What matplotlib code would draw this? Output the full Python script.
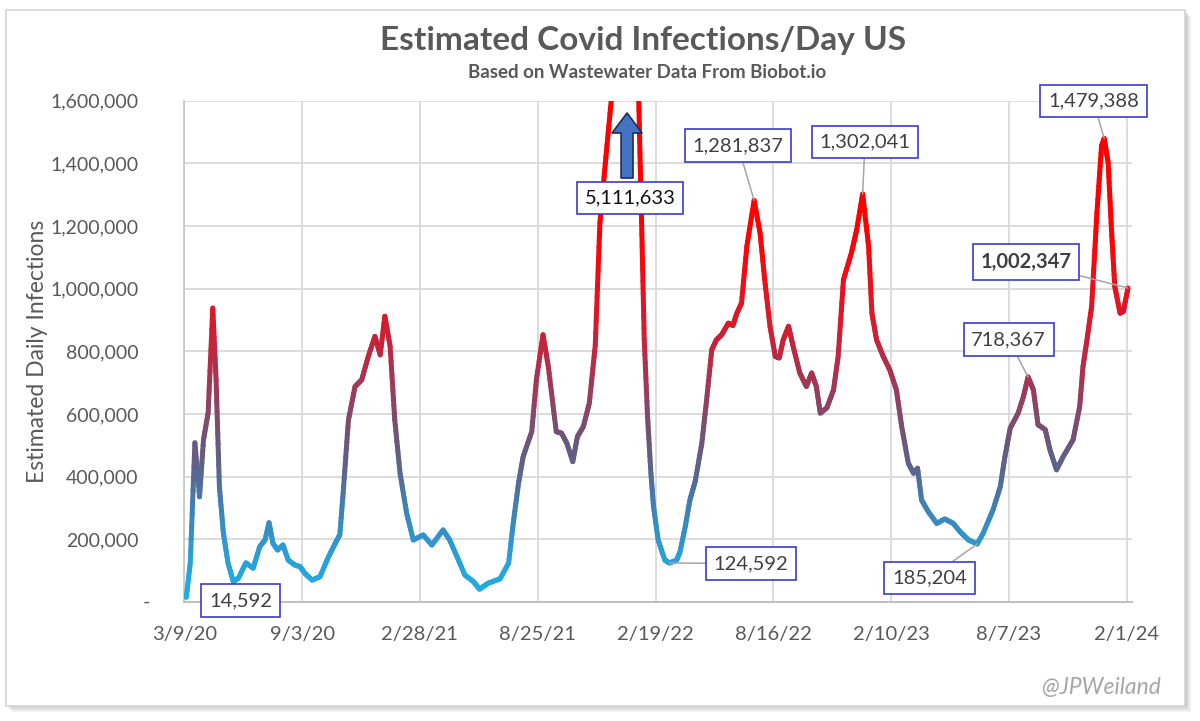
import numpy as np
import matplotlib
matplotlib.use("Agg")
import matplotlib.pyplot as plt
from matplotlib.collections import LineCollection
from matplotlib.colors import LinearSegmentedColormap
from matplotlib.patches import Rectangle

plt.rcParams['font.family'] = ['Lato', 'DejaVu Sans']

# days since 3/9/20 and estimated daily infections
days = [3, 9, 16, 23, 29, 36, 43, 48, 53, 59, 66, 74, 82, 93, 104, 114, 122, 128, 134, 141,
        149, 157, 167, 175, 182, 193, 205, 218, 228, 235,
        240, 248, 258, 268, 278, 288, 296, 303, 311, 318, 326, 336, 346, 361, 374, 391, 401,
        412, 424, 437, 446, 459, 477,
        490, 497, 505, 512, 525, 532, 542, 550, 562, 570, 578, 587, 594, 603, 612, 621, 628,
        637, 646, 655, 664, 673, 686, 691, 695, 700, 705, 709, 716, 726, 733, 744, 749, 757,
        764, 772, 782, 789, 797, 804, 812, 822, 829, 835, 842, 850, 861, 870, 877, 885, 893,
        899, 905, 913, 920, 930, 940, 948, 955, 961,
        971, 981, 988, 996, 1008, 1016, 1025, 1034, 1039, 1046, 1056, 1066, 1076, 1084, 1094,
        1102, 1108, 1114, 1124, 1137, 1149, 1162, 1172, 1185, 1198, 1207, 1222, 1233, 1240,
        1248, 1260, 1268, 1275, 1283, 1290, 1301, 1308, 1318, 1328, 1343, 1353, 1358, 1364,
        1371, 1379, 1386, 1390, 1396, 1401, 1406, 1414, 1419, 1426]
infections = [14592, 125000, 508000, 336000, 518000, 604000, 938000, 709000, 368000, 220000,
              125000, 65000, 77000, 125000, 108000, 177000, 198000, 253000, 187000, 166000,
              182000, 134000, 118000, 113000, 92000, 70000, 81000, 145000, 187000, 215000,
              348000, 581000, 688000, 709000, 784000, 848000, 789000, 912000, 816000, 581000,
              411000, 283000, 198000, 214000, 182000, 230000, 198000, 145000, 86000, 65000,
              41000, 60000, 74000,
              124000, 251000, 379000, 464000, 544000, 709000, 853000, 752000, 544000, 539000,
              507000, 448000, 528000, 560000, 635000, 820000, 1210000, 1420000, 1620000, 3300000,
              5111633, 3300000, 1660000, 1210000, 837000, 592000, 412000, 305000, 198000, 134000,
              124592, 134000, 160000, 241000, 326000, 385000, 507000, 640000, 805000, 837000,
              853000, 890000, 883000, 922000, 954000, 1135000, 1281837, 1178000, 1029000, 880000,
              784000, 779000, 837000, 880000, 816000, 731000, 688000, 731000, 688000, 603000,
              620000, 677000, 784000, 1029000, 1114000, 1188000, 1302041, 1135000, 922000, 837000,
              784000, 741000, 677000, 560000, 443000, 411000, 427000, 326000, 289000, 251000,
              265000, 251000, 225000, 198000, 185204, 219000, 294000, 368000, 464000, 555000,
              603000, 656000, 718367, 677000, 566000, 550000, 486000, 422000, 464000, 518000,
              624000, 752000, 837000, 943000, 1242000, 1455000, 1479388, 1402000, 1188000, 1007000,
              922000, 928000, 1002347]

x_tick_labels = ["3/9/20", "9/3/20", "2/28/21", "8/25/21", "2/19/22",
                 "8/16/22", "2/10/23", "8/7/23", "2/1/24"]
y_ticks = [0, 200000, 400000, 600000, 800000, 1000000, 1200000, 1400000, 1600000]

# callouts: which point, and where its box sits (axes fraction)
callout_days = [3, 664, 733, 861, 1025, 1198, 1275, 1390, 1426]
callout_pos = [(0.0593, 0.003), (0.4705, 0.806), (0.5982, 0.0768), (0.5844, 0.9106),
               (0.7185, 0.9176), (0.7866, 0.0479), (0.870, 0.5236), (0.9596, 0.9994),
               (0.8885, 0.6782)]

fig = plt.figure(figsize=(12, 7.21), dpi=100)

# outer frame with a soft shadow
for i, a in enumerate([0.12, 0.18, 0.26, 0.36]):
    off = (4 - i) * 0.0013
    fig.patches.append(Rectangle((0.005 + off, 0.021 - off * 1.66), 0.9825, 0.965,
                                 transform=fig.transFigure, fc='#b0b0b0', ec='none',
                                 alpha=a, zorder=0))
fig.patches.append(Rectangle((0.005, 0.021), 0.9825, 0.965, transform=fig.transFigure,
                             fc='white', ec='#d4d4d4', lw=1.2, zorder=1))

ax = fig.add_axes([0.1536, 0.1650, 0.7895, 0.6953])
ax.set_zorder(3)
ax.set_facecolor('none')

cmap = LinearSegmentedColormap.from_list('covid', [
    (0.0, '#1db0e8'), (0.115, '#2a9fd6'), (0.23, '#3f82b5'), (0.32, '#5b6590'),
    (0.40, '#6d5678'), (0.50, '#94405e'), (0.60, '#b82b45'), (0.69, '#d81a2c'),
    (0.81, '#f00c14'), (0.92, '#ff0000'), (1.0, '#ff0000')])

x = np.array(days, dtype=float)
y = np.array(infections, dtype=float)
segs = []
cols = []
for i in range(len(x) - 1):
    t = np.linspace(0, 1, 11)
    xs = x[i] + (x[i + 1] - x[i]) * t
    ys = y[i] + (y[i + 1] - y[i]) * t
    for j in range(10):
        segs.append([(xs[j], ys[j]), (xs[j + 1], ys[j + 1])])
        cols.append(cmap(min((ys[j] + ys[j + 1]) / 2 / 1300000, 1.0)))
lc = LineCollection(segs, colors=cols, linewidths=3.6, capstyle='round',
                    joinstyle='round', zorder=3)
ax.add_collection(lc)

ax.set_xlim(0, 1431.6)
ax.set_ylim(0, 1600000)
ax.set_xticks(np.arange(0, 1425, 178))
ax.set_xticklabels(x_tick_labels)
ax.set_yticks(y_ticks)
ax.set_yticklabels([f"{v:,}" if v else "" for v in y_ticks])
ax.text(-0.0399, 0.0, "-", transform=ax.transAxes, ha='center', va='center',
        fontsize=14, color='#595959')
ax.tick_params(axis='both', length=0, labelsize=14, labelcolor='#595959')
ax.tick_params(axis='x', labelsize=14.5, pad=17)
ax.tick_params(axis='y', pad=33)
ax.grid(True, color='#d9d9d9', lw=1.3)
ax.set_axisbelow(True)
for s in ['top', 'right']:
    ax.spines[s].set_visible(False)
ax.spines['bottom'].set_color('#bfbfbf')
ax.spines['bottom'].set_linewidth(1.4)
ax.spines['left'].set_color('#c8c8c8')
ax.spines['left'].set_linewidth(1.3)

ax.set_ylabel("Estimated Daily Infections", fontsize=16.5, color='#595959', va='center')
ax.yaxis.set_label_coords(-0.155, 0.5)

fig.text(0.536, 0.9445, "Estimated Covid Infections/Day US", ha='center', va='center',
         fontsize=24, fontweight='bold', color='#595959', zorder=4)
fig.text(0.5396, 0.900, "Based on Wastewater Data From Biobot.io", ha='center', va='center',
         fontsize=13.5, fontweight='bold', color='#595959', zorder=4)
fig.text(0.9675, 0.0458, "@JPWeiland", ha='right', va='center', fontsize=16.5,
         style='italic', color='#a6a6a6', zorder=4)

for d, pos in zip(callout_days, callout_pos):
    v = infections[days.index(d)]
    label = f"{v:,}"
    color = '#404040'
    weight = 'normal'
    arrow = dict(arrowstyle='-', color='#a5a5a5', lw=1.1, shrinkA=0, shrinkB=0)
    if v > 1600000 or d == days[0]:
        arrow = None
    if v > 1600000:
        color = '#111111'
    if d == days[-1]:
        weight = 'bold'
    ax.annotate(label, xy=(d, v), xycoords='data', xytext=pos, textcoords='axes fraction',
                ha='center', va='center', fontsize=14.5, color=color, fontweight=weight,
                bbox=dict(boxstyle='square,pad=0.38', fc='white', ec='#3b3bcc', lw=1.2),
                arrowprops=arrow, annotation_clip=False, zorder=5)

# blue arrow pointing up at the off-scale omicron peak
ax.annotate('', xy=(0.4673, 0.9755), xycoords='axes fraction', xytext=(0.4673, 0.8458),
            textcoords='axes fraction',
            arrowprops=dict(arrowstyle='simple,head_width=1.08,head_length=0.72,tail_width=0.43',
                            mutation_scale=20, fc='#4472c4', ec='#1f2d4d', lw=1.2,
                            shrinkA=0, shrinkB=0), zorder=6)

fig.savefig("out.png", dpi=100)
